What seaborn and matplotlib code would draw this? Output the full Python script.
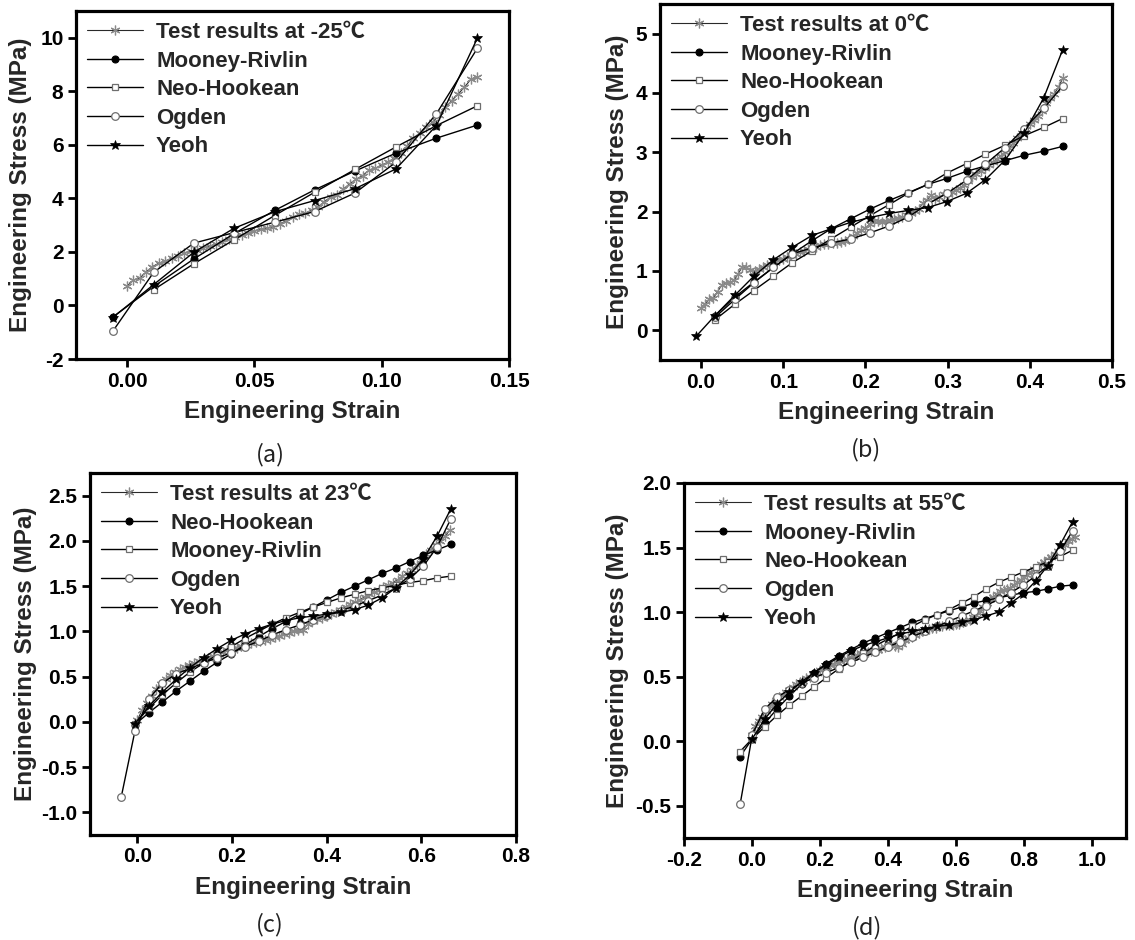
import numpy as np
import matplotlib
matplotlib.use("Agg")
import matplotlib.pyplot as plt
import seaborn as sns

nan = np.nan

# ---------------- (a) -25 C ----------------
a_test_strain = [0.0000, 0.0025, 0.0050, 0.0075, 0.0100, 0.0125, 0.0150, 0.0175, 0.0200, 0.0225,
                 0.0250, 0.0275, 0.0300, 0.0325, 0.0350, 0.0375, 0.0400, 0.0425, 0.0450, 0.0475,
                 0.0500, 0.0525, 0.0550, 0.0575, 0.0600, 0.0625, 0.0650, 0.0675, 0.0700, 0.0725,
                 0.0750, 0.0775, 0.0800, 0.0825, 0.0850, 0.0875, 0.0900, 0.0925, 0.0950, 0.0975,
                 0.1000, 0.1025, 0.1050, 0.1075, 0.1100, 0.1125, 0.1150, 0.1175, 0.1200, 0.1225,
                 0.1250, 0.1275, 0.1300, 0.1325, 0.1350, 0.1375]
a_test_stress = [0.72, 0.95, 1.02, 1.25, 1.45, 1.58, 1.66, 1.76, 1.84, 1.95,
                 2.02, 2.08, 2.15, 2.22, 2.30, 2.38, 2.48, 2.56, 2.64, 2.70,
                 2.78, 2.84, 2.88, 2.94, 3.05, 3.16, 3.30, 3.40, 3.45, 3.56,
                 3.68, 3.88, 4.05, 4.12, 4.35, 4.55, 4.72, 4.85, 5.05, 5.12,
                 5.25, 5.35, 5.52, 5.70, 5.95, 6.25, 6.45, 6.65, 6.85, 7.10,
                 7.40, 7.65, 7.90, 8.15, 8.45, 8.55]
a_model_strain = [-0.0056, 0.0105, 0.0263, 0.0420, 0.0580, 0.0737, 0.0895, 0.1056, 0.1215, 0.1376]
a_mooney = [-0.44, 0.71, 1.74, 2.68, 3.55, 4.32, 5.02, 5.69, 6.25, 6.74]
a_neo = [nan, 0.59, 1.56, 2.45, 3.36, 4.23, 5.08, 5.92, 6.72, 7.46]
a_ogden = [-0.97, 1.24, 2.33, 2.72, 3.11, 3.51, 4.20, 5.35, 7.16, 9.61]
a_yeoh = [-0.45, 0.78, 1.99, 2.88, 3.50, 3.92, 4.36, 5.10, 6.72, 9.99]
a_labels = ["Test results at -25\u2103", "Mooney-Rivlin", "Neo-Hookean", "Ogden", "Yeoh"]
a_xticks = [0.00, 0.05, 0.10, 0.15]
a_yticks = [-2, 0, 2, 4, 6, 8, 10]

# ---------------- (b) 0 C ----------------
b_test_strain = [0.000, 0.005, 0.010, 0.015, 0.020, 0.025, 0.030, 0.035, 0.040, 0.045,
                 0.050, 0.055, 0.060, 0.065, 0.070, 0.075, 0.080, 0.085, 0.090, 0.095,
                 0.100, 0.105, 0.110, 0.115, 0.120, 0.125, 0.130, 0.135, 0.140, 0.145,
                 0.150, 0.155, 0.160, 0.165, 0.170, 0.175, 0.180, 0.185, 0.190, 0.195,
                 0.200, 0.205, 0.210, 0.215, 0.220, 0.225, 0.230, 0.235, 0.240, 0.245,
                 0.250, 0.255, 0.260, 0.265, 0.270, 0.275, 0.280, 0.285, 0.290, 0.295,
                 0.300, 0.305, 0.310, 0.315, 0.320, 0.325, 0.330, 0.335, 0.340, 0.345,
                 0.350, 0.355, 0.360, 0.365, 0.370, 0.375, 0.380, 0.385, 0.390, 0.395,
                 0.400, 0.405, 0.410, 0.415, 0.420, 0.425, 0.430, 0.435, 0.440]
b_test_stress = [0.38, 0.45, 0.52, 0.55, 0.65, 0.76, 0.80, 0.81, 0.84, 0.95,
                 1.07, 1.06, 1.02, 1.00, 1.03, 1.07, 1.10, 1.12, 1.15, 1.18,
                 1.21, 1.24, 1.27, 1.29, 1.32, 1.34, 1.37, 1.39, 1.41, 1.43,
                 1.45, 1.46, 1.47, 1.48, 1.49, 1.51, 1.54, 1.59, 1.64, 1.69,
                 1.72, 1.79, 1.84, 1.85, 1.82, 1.84, 1.86, 1.87, 1.89, 1.91,
                 1.94, 1.98, 2.01, 2.05, 2.14, 2.20, 2.28, 2.22, 2.25, 2.29,
                 2.30, 2.33, 2.36, 2.40, 2.45, 2.51, 2.59, 2.64, 2.69, 2.74,
                 2.79, 2.84, 2.89, 2.94, 3.00, 3.07, 3.15, 3.24, 3.33, 3.40,
                 3.48, 3.55, 3.62, 3.70, 3.83, 3.91, 3.99, 4.10, 4.25]
b_model_strain = [-0.006, 0.017, 0.041, 0.064, 0.088, 0.111, 0.135, 0.158, 0.182, 0.205,
                  0.229, 0.252, 0.276, 0.299, 0.323, 0.346, 0.370, 0.393, 0.417, 0.440]
b_mooney = [nan, 0.25, 0.56, 0.81, 1.06, 1.29, 1.51, 1.71, 1.88, 2.04,
            2.19, 2.32, 2.46, 2.56, 2.68, 2.77, 2.86, 2.95, 3.02, 3.10]
b_neo = [nan, 0.18, 0.44, 0.67, 0.91, 1.14, 1.34, 1.54, 1.74, 1.93,
         2.12, 2.31, 2.46, 2.65, 2.81, 2.97, 3.12, 3.28, 3.42, 3.57]
b_ogden = [nan, 0.22, 0.52, 0.80, 1.06, 1.29, 1.39, 1.47, 1.54, 1.64,
           1.76, 1.91, 2.13, 2.31, 2.53, 2.80, 3.08, 3.40, 3.74, 4.12]
b_yeoh = [-0.10, 0.25, 0.59, 0.91, 1.19, 1.40, 1.60, 1.71, 1.82, 1.90,
          1.97, 2.02, 2.07, 2.17, 2.31, 2.54, 2.87, 3.32, 3.92, 4.73]
b_labels = ["Test results at 0\u2103", "Mooney-Rivlin", "Neo-Hookean", "Ogden", "Yeoh"]
b_xticks = [0.0, 0.1, 0.2, 0.3, 0.4, 0.5]
b_yticks = [0, 1, 2, 3, 4, 5]

# ---------------- (c) 23 C ----------------
c_test_strain = [0.00, 0.01, 0.02, 0.03, 0.04, 0.05, 0.06, 0.07, 0.08, 0.09,
                 0.10, 0.11, 0.12, 0.13, 0.14, 0.15, 0.16, 0.17, 0.18, 0.19,
                 0.20, 0.21, 0.22, 0.23, 0.24, 0.25, 0.26, 0.27, 0.28, 0.29,
                 0.30, 0.31, 0.32, 0.33, 0.34, 0.35, 0.36, 0.37, 0.38, 0.39,
                 0.40, 0.41, 0.42, 0.43, 0.44, 0.45, 0.46, 0.47, 0.48, 0.49,
                 0.50, 0.51, 0.52, 0.53, 0.54, 0.55, 0.56, 0.57, 0.58, 0.59,
                 0.60, 0.61, 0.62, 0.63, 0.64, 0.65, 0.66]
c_test_stress = [0.02, 0.13, 0.21, 0.29, 0.36, 0.42, 0.47, 0.52, 0.55, 0.58,
                 0.61, 0.63, 0.65, 0.67, 0.69, 0.71, 0.73, 0.75, 0.77, 0.79,
                 0.80, 0.82, 0.84, 0.85, 0.87, 0.88, 0.89, 0.91, 0.92, 0.94,
                 0.95, 0.97, 0.98, 1.00, 1.01, 1.02, 1.08, 1.12, 1.14, 1.15,
                 1.17, 1.19, 1.21, 1.24, 1.27, 1.30, 1.32, 1.35, 1.38, 1.41,
                 1.43, 1.46, 1.49, 1.51, 1.54, 1.57, 1.61, 1.64, 1.68, 1.73,
                 1.79, 1.85, 1.90, 1.95, 2.00, 2.05, 2.12]
c_model_strain = [-0.034, -0.005, 0.024, 0.053, 0.082, 0.111, 0.140, 0.169, 0.198, 0.227,
                  0.256, 0.285, 0.314, 0.343, 0.372, 0.401, 0.430, 0.459, 0.488, 0.517,
                  0.546, 0.575, 0.604, 0.633, 0.662]
c_neo = [nan, -0.03, 0.10, 0.22, 0.34, 0.45, 0.56, 0.66, 0.75, 0.85,
         0.94, 1.03, 1.11, 1.19, 1.27, 1.35, 1.43, 1.50, 1.57, 1.64,
         1.70, 1.77, 1.84, 1.90, 1.96]
c_mooney = [nan, -0.02, 0.15, 0.30, 0.43, 0.55, 0.65, 0.74, 0.83, 0.92,
            1.00, 1.08, 1.15, 1.21, 1.27, 1.32, 1.37, 1.41, 1.45, 1.48,
            1.51, 1.54, 1.56, 1.59, 1.61]
c_ogden = [-0.83, -0.10, 0.25, 0.43, 0.53, 0.59, 0.65, 0.71, 0.76, 0.83,
           0.89, 0.96, 1.02, 1.07, 1.13, 1.18, 1.23, 1.28, 1.34, 1.40,
           1.48, 1.58, 1.72, 1.93, 2.24]
c_yeoh = [nan, -0.02, 0.17, 0.33, 0.47, 0.60, 0.71, 0.81, 0.90, 0.97,
          1.03, 1.08, 1.12, 1.15, 1.17, 1.19, 1.21, 1.24, 1.29, 1.37,
          1.48, 1.62, 1.80, 2.05, 2.35]
c_labels = ["Test results at 23\u2103", "Neo-Hookean", "Mooney-Rivlin", "Ogden", "Yeoh"]
c_xticks = [0.0, 0.2, 0.4, 0.6, 0.8]
c_yticks = [-1.0, -0.5, 0.0, 0.5, 1.0, 1.5, 2.0, 2.5]

# ---------------- (d) 55 C ----------------
d_test_strain = [0.00, 0.01, 0.02, 0.03, 0.04, 0.05, 0.06, 0.07, 0.08, 0.09,
                 0.10, 0.11, 0.12, 0.13, 0.14, 0.15, 0.16, 0.17, 0.18, 0.19,
                 0.20, 0.21, 0.22, 0.23, 0.24, 0.25, 0.26, 0.27, 0.28, 0.29,
                 0.30, 0.31, 0.32, 0.33, 0.34, 0.35, 0.36, 0.37, 0.38, 0.39,
                 0.40, 0.41, 0.42, 0.43, 0.44, 0.45, 0.46, 0.47, 0.48, 0.49,
                 0.50, 0.51, 0.52, 0.53, 0.54, 0.55, 0.56, 0.57, 0.58, 0.59,
                 0.60, 0.61, 0.62, 0.63, 0.64, 0.65, 0.66, 0.67, 0.68, 0.69,
                 0.70, 0.71, 0.72, 0.73, 0.74, 0.75, 0.76, 0.77, 0.78, 0.79,
                 0.80, 0.81, 0.82, 0.83, 0.84, 0.85, 0.86, 0.87, 0.88, 0.89,
                 0.90, 0.91, 0.92, 0.93, 0.94, 0.95]
d_test_stress = [0.05, 0.12, 0.16, 0.19, 0.23, 0.26, 0.29, 0.32, 0.34, 0.36,
                 0.38, 0.40, 0.42, 0.44, 0.46, 0.47, 0.49, 0.50, 0.52, 0.53,
                 0.55, 0.56, 0.58, 0.59, 0.60, 0.61, 0.62, 0.63, 0.64, 0.65,
                 0.66, 0.67, 0.68, 0.68, 0.69, 0.70, 0.71, 0.71, 0.72, 0.73,
                 0.74, 0.75, 0.74, 0.73, 0.75, 0.78, 0.80, 0.81, 0.82, 0.84,
                 0.85, 0.86, 0.87, 0.88, 0.88, 0.89, 0.89, 0.90, 0.90, 0.90,
                 0.91, 0.91, 0.92, 0.93, 0.94, 0.96, 0.98, 1.01, 1.04, 1.07,
                 1.10, 1.12, 1.14, 1.16, 1.17, 1.18, 1.19, 1.21, 1.23, 1.25,
                 1.27, 1.29, 1.31, 1.33, 1.35, 1.37, 1.39, 1.41, 1.43, 1.45,
                 1.47, 1.50, 1.52, 1.55, 1.57, 1.58]
d_model_strain = [-0.035, 0.001, 0.037, 0.074, 0.110, 0.146, 0.182, 0.218, 0.255, 0.291,
                  0.327, 0.363, 0.399, 0.436, 0.472, 0.508, 0.544, 0.580, 0.617, 0.653,
                  0.689, 0.725, 0.761, 0.798, 0.834, 0.870, 0.906, 0.943]
d_mooney = [-0.12, 0.02, 0.14, 0.25, 0.35, 0.44, 0.53, 0.60, 0.66, 0.71,
            0.76, 0.80, 0.84, 0.88, 0.92, 0.95, 0.98, 1.01, 1.04, 1.07,
            1.09, 1.11, 1.13, 1.15, 1.16, 1.18, 1.20, 1.21]
d_neo = [-0.08, 0.02, 0.11, 0.20, 0.28, 0.35, 0.42, 0.49, 0.56, 0.62,
         0.68, 0.74, 0.79, 0.84, 0.89, 0.94, 0.98, 1.02, 1.07, 1.12,
         1.18, 1.23, 1.27, 1.31, 1.35, 1.39, 1.43, 1.48]
d_ogden = [-0.49, 0.05, 0.25, 0.34, 0.40, 0.45, 0.49, 0.53, 0.57, 0.61,
           0.65, 0.69, 0.73, 0.77, 0.81, 0.85, 0.89, 0.93, 0.97, 1.01,
           1.05, 1.10, 1.15, 1.21, 1.28, 1.36, 1.47, 1.63]
d_yeoh = [nan, 0.02, 0.17, 0.29, 0.38, 0.46, 0.53, 0.59, 0.65, 0.70,
          0.74, 0.77, 0.80, 0.83, 0.85, 0.87, 0.89, 0.90, 0.92, 0.94,
          0.97, 1.00, 1.07, 1.14, 1.24, 1.36, 1.52, 1.70]
d_labels = ["Test results at 55\u2103", "Mooney-Rivlin", "Neo-Hookean", "Ogden", "Yeoh"]
d_xticks = [-0.2, 0.0, 0.2, 0.4, 0.6, 0.8, 1.0]
d_yticks = [-0.5, 0.0, 0.5, 1.0, 1.5, 2.0]

# ---------------- styling ----------------
sns.set_theme(style="ticks")
plt.rcParams["font.family"] = ["Liberation Sans", "Noto Sans CJK SC", "DejaVu Sans"]
plt.rcParams["font.weight"] = "bold"
plt.rcParams["axes.unicode_minus"] = False

GRAY = "#8a8a8a"
series_styles = [
    dict(marker=(6, 2, 0), markersize=7, markeredgewidth=0.9, markeredgecolor=GRAY,
         markerfacecolor=GRAY, color="#2a2a2a", linewidth=0.8),
    dict(marker="o", markersize=5, markeredgewidth=0.8, markeredgecolor="black",
         markerfacecolor="black", color="black", linewidth=1.0),
    dict(marker="s", markersize=5, markeredgewidth=0.9, markeredgecolor="#6e6e6e",
         markerfacecolor="white", color="black", linewidth=1.0),
    dict(marker="o", markersize=5.5, markeredgewidth=0.9, markeredgecolor="#6e6e6e",
         markerfacecolor="white", color="black", linewidth=1.0),
    dict(marker="*", markersize=7, markeredgewidth=0.5, markeredgecolor="black",
         markerfacecolor="black", color="black", linewidth=1.0),
]

W, H = 1135, 940
panels = [
    dict(rect=(76, 11, 509, 359), test=(a_test_strain, a_test_stress), strain=a_model_strain,
         models=[a_mooney, a_neo, a_ogden, a_yeoh], labels=a_labels,
         xlim=(-0.02, 0.15), ylim=(-2, 11), xticks=a_xticks, yticks=a_yticks,
         xfmt="{:.2f}", yfmt="{:.0f}", ypad=5.5, caption="(a)", cap=(270, 455)),
    dict(rect=(660, 4, 1112, 360), test=(b_test_strain, b_test_stress), strain=b_model_strain,
         models=[b_mooney, b_neo, b_ogden, b_yeoh], labels=b_labels,
         xlim=(-0.05, 0.5), ylim=(-0.5, 5.5), xticks=b_xticks, yticks=b_yticks,
         xfmt="{:.1f}", yfmt="{:.0f}", ypad=5, caption="(b)", cap=(866, 450)),
    dict(rect=(90, 473, 516, 835), test=(c_test_strain, c_test_stress), strain=c_model_strain,
         models=[c_neo, c_mooney, c_ogden, c_yeoh], labels=c_labels,
         xlim=(-0.1, 0.8), ylim=(-1.25, 2.75), xticks=c_xticks, yticks=c_yticks,
         xfmt="{:.1f}", yfmt="{:.1f}", ypad=3, caption="(c)", cap=(270, 925)),
    dict(rect=(684, 483, 1126, 838), test=(d_test_strain, d_test_stress), strain=d_model_strain,
         models=[d_mooney, d_neo, d_ogden, d_yeoh], labels=d_labels,
         xlim=(-0.2, 1.1), ylim=(-0.75, 2.0), xticks=d_xticks, yticks=d_yticks,
         xfmt="{:.1f}", yfmt="{:.1f}", ypad=5, caption="(d)", cap=(867, 928)),
]

fig = plt.figure(figsize=(W / 100, H / 100), dpi=100)

for p in panels:
    l, t, r, b = p["rect"]
    ax = fig.add_axes([l / W, 1 - b / H, (r - l) / W, (b - t) / H])

    # measured curve
    sns.lineplot(x=np.asarray(p["test"][0]), y=np.asarray(p["test"][1]), ax=ax,
                 sort=False, estimator=None, label=p["labels"][0], **series_styles[0])

    # fitted hyperelastic models
    xs = np.asarray(p["strain"], dtype=float)
    for k, vals in enumerate(p["models"]):
        ys = np.asarray(vals, dtype=float)
        ok = ~np.isnan(ys)
        sns.lineplot(x=xs[ok], y=ys[ok], ax=ax, sort=False, estimator=None,
                     label=p["labels"][k + 1], **series_styles[k + 1])

    ax.set_xlim(*p["xlim"])
    ax.set_ylim(*p["ylim"])
    ax.set_xticks(p["xticks"])
    ax.set_yticks(p["yticks"])
    ax.set_xticklabels([p["xfmt"].format(v) for v in p["xticks"]])
    ax.set_yticklabels([p["yfmt"].format(v) for v in p["yticks"]])

    for s in ax.spines.values():
        s.set_visible(True)
        s.set_linewidth(2.3)
        s.set_color("black")
    ax.tick_params(axis="both", which="major", direction="out", length=6, width=2,
                   labelsize=15, pad=3, color="black", labelcolor="black",
                   top=False, right=False)

    ax.set_xlabel("Engineering Strain", fontsize=17.5, fontweight="bold", labelpad=7)
    ax.set_ylabel("Engineering Stress (MPa)", fontsize=17.5, fontweight="bold",
                  labelpad=p["ypad"])

    handles, labels = ax.get_legend_handles_labels()
    ax.legend(handles, labels, loc="upper left", frameon=False,
              prop=dict(size=16, weight="bold"), handlelength=2.5, handletextpad=0.6,
              labelspacing=0.34, borderaxespad=0.0, borderpad=0.5, numpoints=1)

    fig.text(p["cap"][0] / W, 1 - p["cap"][1] / H, p["caption"], fontsize=17,
             family=["Noto Sans CJK SC", "DejaVu Sans"], fontweight="light",
             ha="center", va="center", color="#222222")

fig.savefig("out.png", dpi=100)
